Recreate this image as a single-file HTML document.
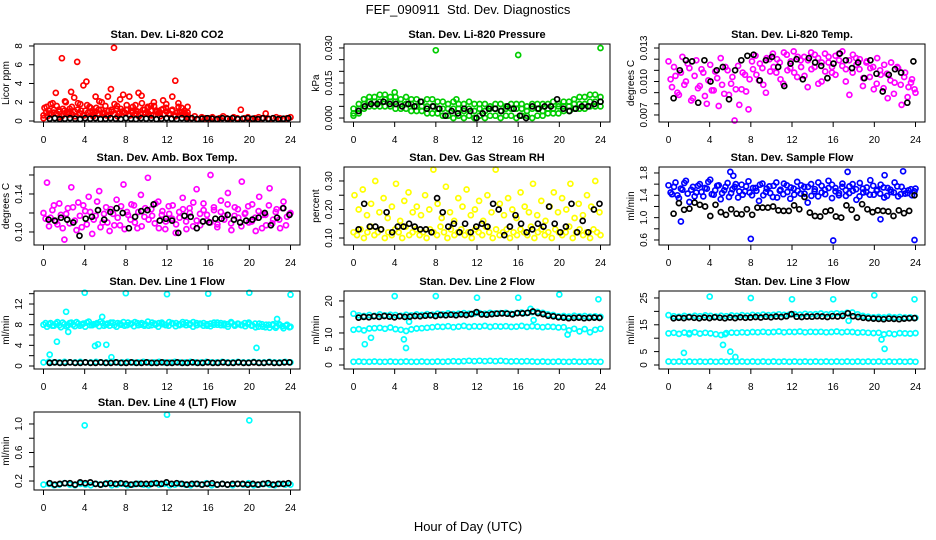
<!DOCTYPE html>
<html><head><meta charset="utf-8"><title>FEF_090911 Std. Dev. Diagnostics</title>
<style>html,body{margin:0;padding:0;background:#fff}svg{display:block;font-family:"Liberation Sans",Arial,sans-serif}</style>
</head><body>
<svg id="chart" width="936" height="540" viewBox="0 0 936 540" xmlns="http://www.w3.org/2000/svg">
<rect width="936" height="540" fill="#fff"/>
<text x="468" y="14" text-anchor="middle" font-size="13" xml:space="preserve">FEF_090911  Std. Dev. Diagnostics</text>
<text x="468" y="531" text-anchor="middle" font-size="13">Hour of Day (UTC)</text>
</svg>
<script>
const xTicks=[0,4,8,12,16,20,24];
// CO2
const co2RedEarly=[0.3,1.5,0.8,1.9,3.0,1.2,6.7,2.1,1.0,3.1,2.5,6.3,1.8,3.8,4.2,1.5,0.9,2.6,1.2,2.0,0.8,2.6,3.4,7.8,1.6,2.3,2.8,1.2,2.6,0.9,1.7,3.0,2.7,1.2,1.5,1.6,2.0,1.1,0.9,2.2,1.4,0.8,2.6,4.3,1.9,1.4,0.9,1.5];
const co2RedBand=[0.6,0.9,1.1,0.7,1.2,0.8,1.0,0.5,1.1,0.9,1.3,0.7,1.0,1.2,0.8,0.6,1.1,0.9,1.4,0.7,1.0,0.8,1.2,0.9,0.6,1.1,1.0,0.7,1.3,0.8,1.0,0.9,1.2,0.6,1.1,0.8,1.0,0.7,1.2,0.9,0.8,1.1,0.6,1.0,0.9,1.2,0.7,1.0,0.8,1.1,0.6,0.9,1.0,0.7,0.8,0.9];
const co2RedBand2=[1.4,0.5,1.8,0.9,1.6,0.4,1.3,2.0,0.7,1.5,0.5,1.9,1.1,0.6,1.7,1.0,0.5,1.4,2.1,0.8,1.6,0.6,1.2,1.8,0.5,1.3,0.9,1.7,0.6,1.5,1.1,0.5,1.9,0.8,1.4,0.6,1.6,1.0,0.5,1.3,1.8,0.7,1.2,0.5,1.5,0.9,1.1,0.6];
const co2RedLate=[0.4,0.3,0.5,0.2,0.4,0.3,0.3,0.4,0.2,0.3,0.5,0.3,0.2,0.4,0.3,1.2,0.3,0.4,0.2,0.3,0.4,0.3,0.8,0.2,0.3,0.4,0.3,0.2,0.3,0.4];
const co2Black=[0.25,0.3,0.2,0.25,0.3,0.25,0.2,0.3,0.25,0.3,0.2,0.25,0.3,0.25,0.2,0.3,0.25,0.2,0.3,0.25,0.3,0.2,0.25,0.3,0.25,0.2,0.3,0.25,0.3,0.2,0.25,0.3,0.25,0.2,0.3,0.25,0.3,0.2,0.25,0.3,0.25,0.2,0.3,0.25,0.3,0.2,0.25,0.3];
// Pressure
const pGreenHi=[0.004,0.006,0.008,0.009,0.009,0.010,0.010,0.009,0.009,0.008,0.009,0.008,0.008,0.007,0.008,0.008,0.007,0.007,0.006,0.007,0.006,0.006,0.007,0.006,0.006,0.006,0.005,0.006,0.006,0.005,0.006,0.006,0.006,0.005,0.006,0.006,0.006,0.006,0.007,0.006,0.007,0.007,0.008,0.009,0.009,0.010,0.010,0.009];
const pGreenMid=[0.002,0.004,0.006,0.007,0.007,0.007,0.008,0.007,0.007,0.006,0.006,0.006,0.005,0.005,0.005,0.005,0.004,0.004,0.004,0.004,0.004,0.003,0.004,0.003,0.004,0.003,0.004,0.004,0.003,0.004,0.004,0.004,0.004,0.003,0.004,0.004,0.003,0.004,0.004,0.005,0.005,0.005,0.006,0.006,0.006,0.007,0.007,0.007];
const pGreenLo=[0.001,0.002,0.004,0.005,0.005,0.005,0.005,0.005,0.004,0.004,0.004,0.003,0.003,0.003,0.002,0.002,0.002,0.001,0.001,0.000,0.001,0.000,0.001,0.000,0.001,0.000,0.001,0.001,0.000,0.001,0.001,0.000,0.001,0.001,0.000,0.001,0.001,0.002,0.002,0.002,0.003,0.003,0.004,0.004,0.004,0.005,0.005,0.005];
const pOutTimes=[4.0,8.0,10.0,16.0,24.0];
const pOutVals=[0.011,0.029,0.008,0.027,0.030];
const pBlack=[0.003,0.005,0.006,0.006,0.007,0.006,0.006,0.005,0.006,0.005,0.007,0.004,0.005,0.004,0.001,0.003,0.002,0.004,0.003,0.000,0.002,0.004,0.004,0.003,0.005,0.004,0.001,0.000,0.005,0.004,0.005,0.005,0.008,0.004,0.003,0.004,0.005,0.005,0.006,0.007];
// Li-820 Temp
const tMagA=[0.0118,0.0095,0.0105,0.0088,0.0122,0.0100,0.0112,0.0085,0.0119,0.0096,0.0108,0.0080,0.0115,0.0092,0.0103,0.0121,0.0089,0.0110,0.0098,0.0065,0.0114,0.0093,0.0106,0.0075,0.0118,0.0123,0.0101,0.0112,0.0090,0.0120,0.0125,0.0108,0.0117,0.0098,0.0124,0.0112,0.0127,0.0104,0.0119,0.0122,0.0095,0.0126,0.0113,0.0121,0.0100,0.0125,0.0117,0.0108,0.0123,0.0119,0.0127,0.0111,0.0088,0.0124,0.0115,0.0120,0.0103,0.0118,0.0112,0.0093,0.0121,0.0106,0.0115,0.0085,0.0117,0.0099,0.0112,0.0079,0.0108,0.0095,0.0102,0.0090];
const tMagB=[0.0102,0.0113,0.0090,0.0108,0.0097,0.0116,0.0083,0.0105,0.0094,0.0111,0.0087,0.0101,0.0092,0.0109,0.0078,0.0097,0.0113,0.0088,0.0104,0.0093,0.0079,0.0108,0.0091,0.0102,0.0111,0.0106,0.0116,0.0097,0.0121,0.0109,0.0113,0.0120,0.0102,0.0126,0.0110,0.0118,0.0108,0.0122,0.0113,0.0105,0.0119,0.0111,0.0124,0.0098,0.0117,0.0109,0.0122,0.0113,0.0106,0.0125,0.0114,0.0100,0.0119,0.0108,0.0121,0.0111,0.0096,0.0117,0.0104,0.0113,0.0098,0.0110,0.0094,0.0107,0.0101,0.0089,0.0113,0.0097,0.0104,0.0086,0.0099,0.0093];
const tBlack=[0.0085,0.0110,0.0119,0.0118,0.0081,0.0119,0.0100,0.0110,0.0113,0.0084,0.0110,0.0119,0.0123,0.0124,0.0101,0.0119,0.0122,0.0113,0.0096,0.0116,0.0120,0.0102,0.0121,0.0117,0.0114,0.0103,0.0116,0.0125,0.0119,0.0112,0.0117,0.0103,0.0119,0.0107,0.0091,0.0106,0.0111,0.0108,0.0081,0.0118];
// Amb box temp
const aMagA=[0.120,0.152,0.115,0.128,0.108,0.118,0.092,0.125,0.147,0.112,0.131,0.105,0.122,0.137,0.098,0.117,0.143,0.110,0.126,0.101,0.119,0.134,0.107,0.150,0.121,0.113,0.128,0.104,0.139,0.116,0.157,0.124,0.109,0.132,0.118,0.103,0.127,0.114,0.099,0.121,0.136,0.111,0.125,0.106,0.145,0.119,0.130,0.112,0.160,0.123,0.108,0.133,0.117,0.141,0.102,0.126,0.115,0.153,0.120,0.110,0.129,0.101,0.137,0.118,0.107,0.146,0.113,0.124,0.104,0.132,0.116,0.120];
const aMagB=[0.114,0.106,0.123,0.111,0.130,0.104,0.119,0.109,0.126,0.102,0.117,0.128,0.108,0.121,0.113,0.132,0.105,0.119,0.110,0.124,0.107,0.115,0.127,0.103,0.118,0.129,0.110,0.121,0.106,0.125,0.113,0.117,0.130,0.104,0.122,0.111,0.119,0.128,0.108,0.115,0.124,0.103,0.120,0.131,0.112,0.107,0.123,0.118,0.110,0.126,0.105,0.121,0.113,0.129,0.109,0.117,0.124,0.106,0.119,0.127,0.111,0.115,0.122,0.104,0.118,0.128,0.109,0.121,0.113,0.125,0.107,0.119];
const aBlack=[0.113,0.112,0.115,0.113,0.110,0.096,0.114,0.116,0.123,0.113,0.121,0.125,0.120,0.104,0.116,0.122,0.123,0.129,0.112,0.114,0.112,0.099,0.117,0.116,0.104,0.111,0.110,0.114,0.114,0.118,0.113,0.110,0.112,0.113,0.115,0.120,0.107,0.115,0.125,0.118];
// Gas stream RH
const rhLow=[0.12,0.11,0.13,0.10,0.12,0.14,0.11,0.12,0.13,0.10,0.12,0.11,0.13,0.12,0.10,0.14,0.11,0.12,0.13,0.11,0.12,0.10,0.13,0.12,0.11,0.14,0.12,0.10,0.13,0.11,0.12,0.13,0.11,0.12,0.10,0.13,0.12,0.11,0.14,0.12,0.10,0.13,0.11,0.12,0.13,0.10,0.12,0.11,0.13,0.12,0.11,0.14,0.10,0.12,0.13,0.11,0.12,0.10,0.13,0.12,0.11,0.12,0.14,0.10,0.12,0.13,0.11,0.12,0.10,0.13,0.12,0.11];
const rhHigh=[0.25,0.20,0.27,0.18,0.22,0.30,0.19,0.24,0.17,0.21,0.29,0.16,0.23,0.26,0.19,0.21,0.18,0.25,0.20,0.34,0.22,0.17,0.28,0.19,0.16,0.24,0.21,0.27,0.18,0.20,0.23,0.16,0.25,0.19,0.34,0.22,0.18,0.24,0.20,0.17,0.26,0.21,0.19,0.29,0.18,0.23,0.16,0.21,0.26,0.19,0.24,0.20,0.29,0.17,0.22,0.18,0.25,0.21,0.30,0.19];
const rhBlack=[0.13,0.22,0.14,0.14,0.13,0.19,0.12,0.14,0.14,0.15,0.14,0.13,0.13,0.12,0.24,0.19,0.14,0.15,0.12,0.15,0.12,0.14,0.15,0.14,0.22,0.20,0.11,0.14,0.18,0.15,0.12,0.13,0.15,0.14,0.21,0.15,0.12,0.14,0.22,0.12,0.16,0.12,0.20,0.22];
// Sample flow
const sBlueA=[1.58,1.42,1.63,1.35,1.50,1.66,1.28,1.55,1.45,1.60,1.38,1.52,1.68,1.41,1.57,1.33,1.49,1.62,1.44,1.55,1.36,1.59,1.47,1.65,1.40,1.53,1.30,1.61,1.46,1.56,1.37,1.63,1.48,1.42,1.58,1.34,1.52,1.64,1.43,1.55,1.27,1.60,1.47,1.38,1.57,1.50,1.66,1.35,1.53,1.44,1.61,1.39,1.56,1.48,1.32,1.62,1.45,1.54,1.67,1.41,1.50,1.59,1.36,1.53,1.46,1.63,1.38,1.55,1.43,1.49,1.40,1.52];
const sBlueB=[1.45,1.55,1.40,1.52,1.62,1.43,1.50,1.38,1.57,1.46,1.53,1.64,1.42,1.49,1.58,1.44,1.55,1.37,1.51,1.60,1.47,1.41,1.56,1.45,1.53,1.48,1.59,1.40,1.52,1.44,1.57,1.36,1.50,1.61,1.46,1.54,1.41,1.48,1.58,1.43,1.55,1.39,1.51,1.63,1.45,1.42,1.53,1.59,1.47,1.40,1.55,1.49,1.44,1.60,1.51,1.38,1.52,1.46,1.41,1.57,1.48,1.43,1.54,1.39,1.50,1.45,1.56,1.42,1.48,1.44,1.51,1.47];
const sOutTimes=[1.2,6.0,6.3,8.0,16.0,17.4,20.6,21.0,22.8,23.9];
const sOutVals=[0.93,1.82,1.75,0.62,0.59,1.82,0.97,1.76,1.83,0.60];
const sBlack=[1.07,1.26,1.14,1.16,1.27,1.23,1.20,1.03,1.23,1.10,1.05,1.15,1.07,1.06,1.15,1.05,1.18,1.18,1.18,1.20,1.13,1.12,1.12,1.22,1.15,1.37,1.09,1.03,1.02,1.11,1.13,1.02,1.00,1.22,1.14,1.00,1.24,1.15,1.10,1.13,1.12,1.11,1.03,1.13,1.08,1.12,1.40];
// Line 1
const l1A=[8.0,7.6,8.3,7.8,8.5,7.5,8.1,7.9,8.4,7.7,8.2,8.0,7.6,8.6,7.9,8.1,7.7,8.3,8.0,7.8,8.4,7.6,8.2,8.5,7.9,8.1,7.7,8.3,8.0,7.8,8.6,7.9,8.2,7.6,8.4,8.0,7.8,8.3,7.7,8.1,8.5,7.9,8.0,7.6,8.3,8.2,7.8,8.1,7.7,8.4,8.0,7.9,8.2,7.6,8.3,7.8,8.1,8.0,7.7,8.4,7.9,7.5,8.2,7.6,8.0,7.4,8.1,7.7,7.9,7.3,8.0,7.6];
const l1B=[8.3,8.1,7.8,8.2,7.9,8.4,7.7,8.3,8.0,8.5,7.8,8.2,8.4,7.9,8.1,8.3,8.6,7.8,8.2,8.4,7.9,8.3,8.0,7.8,8.4,8.2,8.5,7.9,8.3,8.1,7.8,8.4,8.0,8.3,8.1,7.9,8.5,8.2,8.3,7.9,8.1,8.4,8.2,8.5,7.9,8.1,8.3,7.8,8.2,8.0,8.4,8.3,7.9,8.1,8.5,8.0,8.2,7.9,8.3,8.1,7.8,8.2,7.6,8.1,7.5,8.0,7.9,7.4,8.1,7.7,7.8,7.5];
const l1Low=[0.7,0.8,0.7,0.7,0.8,0.7,0.7,0.8,0.7,0.7,0.8,0.7,0.7,0.8,0.7,0.7,0.8,0.7,0.7,0.8,0.7,0.7,0.8,0.7,0.7,0.8,0.7,0.7,0.8,0.7,0.7,0.8,0.7,0.7,0.8,0.7,0.7,0.8,0.7,0.7,0.8,0.7,0.7,0.8,0.7,0.7,0.8,0.7];
const l1OutTimes=[0.6,1.3,2.2,2.4,4.0,5.0,5.3,5.7,6.1,6.6,8.0,12.0,16.0,20.0,20.7,22.7,24.0];
const l1OutVals=[2.2,4.7,10.5,6.6,14.2,3.9,4.2,9.5,4.1,1.7,14.1,13.9,14.0,14.2,3.5,9.1,13.8];
const l1Black=[0.6,0.7,0.6,0.6,0.7,0.6,0.6,0.7,0.6,0.6,0.7,0.6,0.6,0.7,0.6,0.6,0.7,0.6,0.6,0.7,0.6,0.6,0.7,0.6,0.6,0.7,0.6,0.6,0.7,0.6,0.6,0.7,0.6,0.6,0.7,0.6,0.6,0.7,0.6,0.6,0.7,0.6,0.6,0.7,0.6,0.6,0.7,0.7];
// Line 2
const l2Top=[16.0,15.5,15.3,15.6,15.4,15.8,15.5,15.7,15.6,15.4,15.7,15.5,15.8,15.6,15.9,15.7,16.0,15.8,16.1,15.9,16.0,16.2,16.0,16.1,16.2,16.0,16.3,16.1,16.2,16.3,16.0,16.2,16.4,16.2,16.5,16.6,16.3,15.8,15.6,15.2,15.3,15.1,15.4,15.2,15.3,15.1,15.2,15.0];
const l2Mid=[11.0,11.2,10.8,11.4,11.5,11.6,11.3,11.7,11.2,11.0,10.6,11.1,11.4,11.5,11.6,11.8,12.0,11.9,12.1,11.8,12.0,12.2,11.9,12.1,12.0,12.2,11.9,12.1,12.0,12.1,11.9,12.0,12.2,11.9,12.1,12.0,11.8,12.0,11.9,11.7,11.8,10.8,11.3,10.5,11.2,10.2,11.0,11.3];
const l2Low=[1.0,1.1,1.0,1.0,1.1,1.0,1.0,1.1,1.0,1.0,1.1,1.0,1.0,1.1,1.0,1.0,1.1,1.0,1.1,1.2,1.1,1.2,1.3,1.2,1.3,1.2,1.3,1.2,1.3,1.2,1.1,1.2,1.1,1.2,1.1,1.0,1.1,1.0,1.0,1.1,1.0,1.0,1.1,1.0,1.0,1.1,1.0,1.0];
const l2OutTimes=[1.1,1.7,4.0,4.9,5.1,5.4,8.0,12.0,16.0,17.2,17.5,20.0,20.8,23.8];
const l2OutVals=[6.5,8.5,21.5,8.0,5.3,13.5,21.5,21.0,21.0,17.5,14.0,22.0,9.5,20.5];
const l2Black=[14.8,15.0,14.9,15.2,15.0,15.3,15.1,14.9,15.2,15.0,15.1,15.3,15.2,15.4,15.5,15.3,15.6,15.5,15.7,15.5,15.8,15.6,15.9,16.5,15.8,15.7,15.9,16.0,16.1,16.0,15.8,16.2,16.1,16.3,16.7,16.2,15.9,15.4,15.2,14.9,14.8,14.6,14.7,14.8,14.6,14.7,14.8,14.7];
// Line 3
const l3Top=[18.6,18.2,18.0,18.3,18.1,18.4,18.2,18.5,18.3,18.1,18.4,18.2,18.5,18.3,18.6,18.4,18.7,18.5,18.8,18.6,18.7,18.9,18.7,18.8,19.0,18.8,19.1,18.9,19.0,19.2,18.9,19.1,19.3,19.1,19.5,19.6,18.9,18.3,18.0,17.8,17.9,17.7,18.0,17.8,17.9,17.7,17.8,17.6];
const l3Mid=[11.8,12.0,11.6,12.1,11.9,12.2,11.7,12.0,11.8,11.5,11.2,11.9,12.1,12.0,12.2,12.1,12.3,12.2,12.4,12.2,12.3,12.5,12.2,12.4,12.3,12.5,12.2,12.4,12.3,12.4,12.2,12.3,12.5,12.2,12.4,12.3,12.1,12.2,12.0,11.9,12.0,11.4,11.8,11.5,11.9,11.8,11.7,11.9];
const l3Low=[1.3,1.2,1.3,1.2,1.3,1.2,1.3,1.2,1.3,1.2,1.3,1.2,1.3,1.2,1.3,1.2,1.3,1.2,1.3,1.2,1.3,1.2,1.3,1.2,1.3,1.2,1.3,1.2,1.3,1.2,1.3,1.2,1.3,1.2,1.3,1.2,1.3,1.2,1.3,1.2,1.3,1.2,1.3,1.2,1.3,1.2,1.3,1.2];
const l3OutTimes=[1.5,2.0,4.0,5.3,5.5,6.0,6.5,8.0,12.0,16.0,17.5,20.0,20.7,21.0,23.9];
const l3OutVals=[4.5,11.5,25.5,7.5,11.5,5.0,3.0,25.0,24.5,24.5,16.5,26.0,9.5,6.0,24.5];
const l3Black=[17.4,17.6,17.5,17.8,17.6,17.4,17.7,17.5,17.8,17.6,17.4,17.7,17.5,17.8,17.6,17.7,17.9,17.7,18.0,17.8,18.1,17.9,18.2,19.0,18.0,17.9,18.1,18.0,18.2,18.1,17.9,18.2,18.1,18.3,19.3,18.2,17.9,17.6,17.4,17.3,17.2,17.1,17.3,17.2,17.1,17.3,17.4,17.5];
// Line 4
const l4Cyan=[0.15,0.16,0.14,0.15,0.17,0.15,0.14,0.16,0.15,0.14,0.16,0.15,0.17,0.14,0.15,0.16,0.14,0.15,0.16,0.15,0.14,0.17,0.15,0.16,0.14,0.15,0.16,0.15,0.14,0.16,0.15,0.17,0.14,0.15,0.16,0.15,0.14,0.16,0.15,0.17,0.14,0.15,0.16,0.15,0.14,0.16,0.15,0.15];
const l4OutTimes=[4.0,12.0,20.0];
const l4OutVals=[0.98,1.13,1.05];
const l4Black=[0.17,0.15,0.16,0.17,0.17,0.15,0.18,0.17,0.18,0.16,0.15,0.16,0.17,0.16,0.17,0.16,0.15,0.16,0.16,0.16,0.16,0.17,0.16,0.18,0.16,0.17,0.16,0.15,0.16,0.16,0.15,0.16,0.17,0.15,0.16,0.15,0.16,0.16,0.16,0.15,0.16,0.15,0.16,0.17,0.15,0.16,0.16,0.17];

const svg=document.getElementById('chart');
const NS='http://www.w3.org/2000/svg';
function mk(tag,attrs,parent){const e=document.createElementNS(NS,tag);for(const k in attrs)e.setAttribute(k,attrs[k]);parent.appendChild(e);return e;}
const colLeft=[34,344,659], rowTop=[44,167,291,412], W=266, H=78;

function S(vals,t0,t1,color){return {vals,t0,t1,color};}
function SO(vals,times,color){return {vals,times,color};}

function panel(p){
  const L=colLeft[p.col], T=rowTop[p.row], B=T+H;
  const g=mk('g',{},svg);
  
  
  const xs=h=>L+9.5+h*(247/24);
  const ys=v=>B-(v-p.ymin)/(p.ymax-p.ymin)*H;
  const tt=mk('text',{x:L+W/2,y:T-6,'text-anchor':'middle','font-size':'11','font-weight':'bold'},g);
  tt.textContent=p.title;
  
  
  const pts=mk('g',{fill:'none','stroke-width':'1.7'},g);
  
  
  p.series.forEach(s=>{
    s.vals.forEach((v,i)=>{
      const h = s.times ? s.times[i] : s.t0 + (s.vals.length>1 ? i*(s.t1-s.t0)/(s.vals.length-1) : 0);
      const c=mk('circle',{cx:xs(h).toFixed(1),cy:ys(v).toFixed(1),r:2.5,stroke:s.color},pts);
      
      
    });
  });
  const box=mk('rect',{x:L,y:T,width:W,height:H,fill:'none',stroke:'#000','stroke-width':'1'},g);
  
  
  const xa=mk('g',{},g);
  
  
  xTicks.forEach(t=>{
    mk('line',{x1:xs(t),x2:xs(t),y1:B,y2:B+5,stroke:'#000'},xa);
    const tx=mk('text',{x:xs(t),y:B+21,'text-anchor':'middle','font-size':'10'},xa);
    tx.textContent=t;
  });
  mk('line',{x1:xs(0),x2:xs(24),y1:B,y2:B,stroke:'#000'},xa);
  const ya=mk('g',{},g);
  
  
  p.ticks.forEach(t=>{
    const y=ys(t);
    mk('line',{x1:L-5,x2:L,y1:y,y2:y,stroke:'#000'},ya);
  });
  p.labels.forEach(t=>{
    const y=ys(t);
    const tx=mk('text',{x:L-12,y:y,'text-anchor':'middle','font-size':'10',transform:`rotate(-90 ${L-12} ${y})`},ya);
    tx.textContent=p.fmt?p.fmt(t):t;
  });
  const yl=mk('text',{x:L-25,y:T+H/2,'text-anchor':'middle','font-size':'10',transform:`rotate(-90 ${L-25} ${T+H/2})`},g);
  yl.textContent=p.ylab;
  
  
}

panel({id:'co2',col:0,row:0,title:'Stan. Dev. Li-820 CO2',ylab:'Licor ppm',ymin:-0.107,ymax:8.21,
  ticks:[0,2,4,6,8],labels:[0,2,4,6,8],
  series:[S(co2RedBand,0,14,'#f00'),S(co2RedBand2,0.1,14,'#f00'),S(co2RedEarly,0,14,'#f00'),S(co2RedLate,14,24,'#f00'),S(co2Black,0.6,23.8,'#000')]});
panel({id:'pressure',col:1,row:0,title:'Stan. Dev. Li-820 Pressure',ylab:'kPa',ymin:-0.0017,ymax:0.0317,
  ticks:[0,0.005,0.01,0.015,0.02,0.025,0.03],labels:[0,0.015,0.03],fmt:v=>v.toFixed(3),
  series:[S(pGreenLo,0,24,'#00cd00'),S(pGreenMid,0,24,'#00cd00'),S(pGreenHi,0,24,'#00cd00'),SO(pOutVals,pOutTimes,'#00cd00'),S(pBlack,0.5,24,'#000')]});
panel({id:'licor-temp',col:2,row:0,title:'Stan. Dev. Li-820 Temp.',ylab:'degrees C',ymin:0.00637,ymax:0.01336,
  ticks:[0.007,0.008,0.009,0.01,0.011,0.012,0.013],labels:[0.007,0.01,0.013],fmt:v=>v.toFixed(3),
  series:[S(tMagA,0,24,'#f0f'),S(tMagB,0.2,23.9,'#f0f'),S(tBlack,0.5,23.8,'#000')]});
panel({id:'amb-box-temp',col:0,row:1,title:'Stan. Dev. Amb. Box Temp.',ylab:'degrees C',ymin:0.0863,ymax:0.1684,
  ticks:[0.1,0.12,0.14,0.16],labels:[0.1,0.14],fmt:v=>v.toFixed(2),
  series:[S(aMagA,0,24,'#f0f'),S(aMagB,0.2,23.9,'#f0f'),S(aBlack,0.5,23.9,'#000')]});
panel({id:'gas-rh',col:1,row:1,title:'Stan. Dev. Gas Stream RH',ylab:'percent',ymin:0.0754,ymax:0.349,
  ticks:[0.1,0.15,0.2,0.25,0.3],labels:[0.1,0.2,0.3],fmt:v=>v.toFixed(2),
  series:[S(rhLow,0,24,'#ff0'),S(rhHigh,0.1,23.9,'#ff0'),S(rhBlack,0.5,23.9,'#000')]});
panel({id:'sample-flow',col:2,row:1,title:'Stan. Dev. Sample Flow',ylab:'ml/min',ymin:0.51,ymax:1.907,
  ticks:[0.6,0.8,1.0,1.2,1.4,1.6,1.8],labels:[0.6,1.0,1.4,1.8],fmt:v=>v.toFixed(1),
  series:[S(sBlueA,0,24,'#00f'),S(sBlueB,0.2,23.9,'#00f'),SO(sOutVals,sOutTimes,'#00f'),S(sBlack,0.5,23.9,'#000')]});
panel({id:'line1-flow',col:0,row:2,title:'Stan. Dev. Line 1 Flow',ylab:'ml/min',ymin:-0.58,ymax:14.52,
  ticks:[0,2,4,6,8,10,12,14],labels:[0,4,8,12],
  series:[S(l1A,0,24,'#0ff'),S(l1B,0.2,23.9,'#0ff'),S(l1Low,0,24,'#0ff'),SO(l1OutVals,l1OutTimes,'#0ff'),S(l1Black,0.6,23.9,'#000')]});
panel({id:'line2-flow',col:1,row:2,title:'Stan. Dev. Line 2 Flow',ylab:'ml/min',ymin:-1.25,ymax:23.1,
  ticks:[0,5,10,15,20],labels:[0,5,10,20],
  series:[S(l2Top,0,24,'#0ff'),S(l2Mid,0,24,'#0ff'),S(l2Low,0,24,'#0ff'),SO(l2OutVals,l2OutTimes,'#0ff'),S(l2Black,0.5,23.9,'#000')]});
panel({id:'line3-flow',col:2,row:2,title:'Stan. Dev. Line 3 Flow',ylab:'ml/min',ymin:-1.49,ymax:27.6,
  ticks:[0,5,10,15,20,25],labels:[0,5,15,25],
  series:[S(l3Top,0,24,'#0ff'),S(l3Mid,0,24,'#0ff'),S(l3Low,0,24,'#0ff'),SO(l3OutVals,l3OutTimes,'#0ff'),S(l3Black,0.5,23.9,'#000')]});
panel({id:'line4-flow',col:0,row:3,title:'Stan. Dev. Line 4 (LT) Flow',ylab:'ml/min',ymin:0.074,ymax:1.168,
  ticks:[0.2,0.4,0.6,0.8,1.0],labels:[0.2,0.6,1.0],fmt:v=>v.toFixed(1),
  series:[S(l4Cyan,0,24,'#0ff'),SO(l4OutVals,l4OutTimes,'#0ff'),S(l4Black,0.6,23.8,'#000')]});
</script>
</body></html>
